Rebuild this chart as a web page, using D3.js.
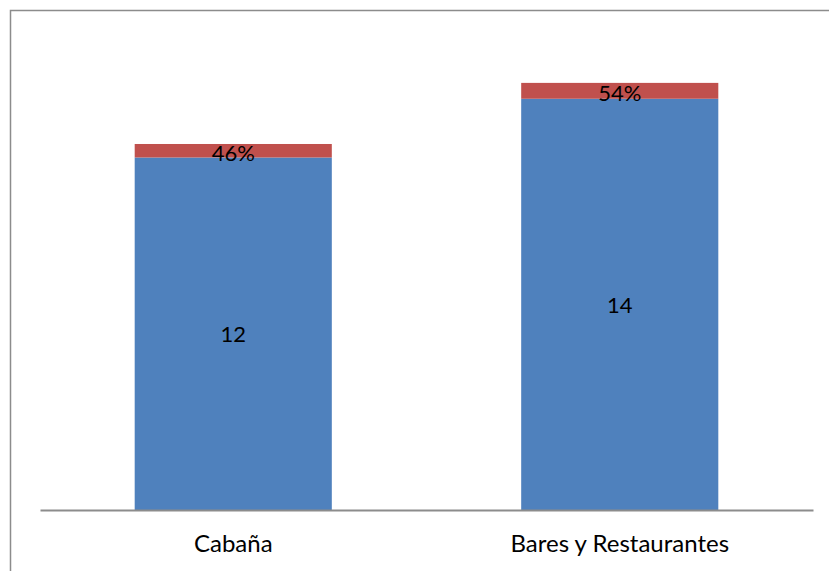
<!DOCTYPE html>
<html><head><meta charset="utf-8">
<script src="https://cdn.jsdelivr.net/npm/d3@7"></script>
<style>body{margin:0;background:#fff}svg{display:block}text{font-family:Lato,"Open Sans",sans-serif}</style>
</head><body>
<svg id="c" width="829" height="571"></svg>
<script>
const categories = ["Cabaña", "Bares y Restaurantes"];
const countValues = [12, 14];
const shareValues = [0.46, 0.54];
const shareLabels = ["46%", "54%"];

const svg = d3.select("#c");
svg.append("rect").attr("x",10.5).attr("y",10.5).attr("width",840).attr("height",600)
  .attr("fill","none").attr("stroke","#8c8c8c").attr("stroke-width",1.5);

const x = d3.scaleBand().domain(categories).range([40, 813]).paddingInner(0.49).paddingOuter(0.245);
const y = d3.scaleLinear().domain([0, 16]).range([510, 40]);

const data = categories.map((c,i)=>({cat:c, count:countValues[i], share:shareValues[i], label:shareLabels[i]}));

const g = svg.append("g");
g.selectAll(".b").data(data).join("rect")
  .attr("x", d=>x(d.cat)).attr("width", x.bandwidth())
  .attr("y", d=>y(d.count)).attr("height", d=>y(0)-y(d.count)).attr("fill","#4F81BD");
g.selectAll(".r").data(data).join("rect")
  .attr("x", d=>x(d.cat)).attr("width", x.bandwidth())
  .attr("y", d=>y(d.count+d.share)).attr("height", d=>y(d.count)-y(d.count+d.share)).attr("fill","#C0504D");

g.selectAll(".cl").data(data).join("text")
  .attr("x", d=>x(d.cat)+x.bandwidth()/2).attr("y", d=>(y(0)+y(d.count))/2)
  .attr("text-anchor","middle").attr("dominant-baseline","central")
  .attr("font-size",22).attr("fill","#000").text(d=>d.count);
g.selectAll(".pl").data(data).join("text")
  .attr("x", d=>x(d.cat)+x.bandwidth()/2).attr("y", d=>(y(d.count)+y(d.count+d.share))/2+1.5)
  .attr("text-anchor","middle").attr("dominant-baseline","central")
  .attr("font-size",22).attr("fill","#000").text(d=>d.label);

const axis = svg.append("g").attr("transform","translate(0,510)")
  .call(d3.axisBottom(x).tickSize(0).tickPadding(0));
axis.select(".domain").attr("stroke","#8c8c8c").attr("stroke-width",2);
axis.selectAll("text").attr("font-size",24).attr("fill","#000").attr("dy",null).attr("y",42)
  .style("font-family","Lato,'Open Sans',sans-serif");
</script>
</body></html>
